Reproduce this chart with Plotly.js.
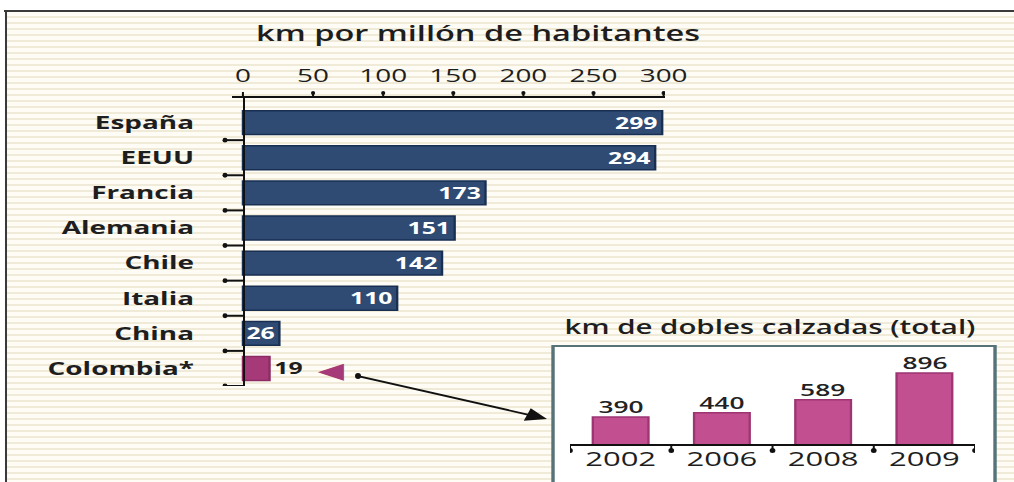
<!DOCTYPE html>
<html><head><meta charset="utf-8">
<script src="https://cdn.plot.ly/plotly-3.0.1.min.js"></script>
<style>
html,body{margin:0;padding:0;background:#fff;overflow:hidden;}
#wrap{width:1014px;height:482px;position:relative;overflow:hidden;
background:
 linear-gradient(to bottom,#fff 0,#fff 10px,transparent 10px),
 linear-gradient(to right,#fff 0,#fff 5px,transparent 5px),
 repeating-linear-gradient(to bottom,#fefcf4 0px,#fefcf4 4px,#efebd8 4px,#efebd8 6px);}
#chart{width:654px;height:482px;transform:scaleX(1.5505);transform-origin:0 0;}
</style></head>
<body><div id="wrap"><div id="chart"></div></div>
<script>
// Main chart: km per million inhabitants
const countries = ["España","EEUU","Francia","Alemania","Chile","Italia","China","Colombia*"];
const kmPerMillion = [299,294,173,151,142,110,26,19];
const mainTicks = [0,50,100,150,200,250,300];
// Inset: km of dual carriageways (total)
const years = ["2002","2006","2008","2009"];
const kmDual = [390,440,589,896];

const SW = 1014, H = 482, W0 = 654, S = SW / W0;   // horizontal stretch of the artwork
const px = v => v / SW, py = v => 1 - v / H;

const barColors = countries.map((c,i) => i === countries.length-1 ? '#a63a79' : '#2f4b74');
const lineColors = countries.map((c,i) => i === countries.length-1 ? '#8c2c63' : '#182f52');
const textPos = kmPerMillion.map((v,i) => i === countries.length-1 ? 'outside' : 'inside');
const textCol = kmPerMillion.map((v,i) => i === countries.length-1 ? '#1e1e1e' : '#ffffff');

const font = "'Open Sans', 'Noto Sans', sans-serif";

const traces = [
 {type:'bar', orientation:'h', x:kmPerMillion, y:countries, xaxis:'x', yaxis:'y',
  marker:{color:barColors, line:{color:lineColors, width:1.5}},
  width:0.68, text:kmPerMillion.map(String), textposition:textPos, textangle:0,
  insidetextanchor:'end', constraintext:'none', cliponaxis:false,
  textfont:{family:font, size:16, color:textCol, weight:700},
  hoverinfo:'x+y'},
 {type:'bar', x:years, y:kmDual, xaxis:'x2', yaxis:'y2',
  marker:{color:'#c24f8f', line:{color:'#9c3572', width:1.5}},
  width:0.55, hoverinfo:'x+y'}
];

const shapes = [];
// frame lines
shapes.push({type:'line', xref:'paper', yref:'paper', x0:px(4), x1:1, y0:py(11), y1:py(11), line:{color:'#3a3a3a', width:2}});
shapes.push({type:'line', xref:'paper', yref:'paper', x0:px(6), x1:px(6), y0:py(11), y1:0, line:{color:'#3a3a3a', width:1.3}});
// main x ticks (upwards) with dots
mainTicks.forEach(t => {
  shapes.push({type:'line', xref:'x', yref:'paper', x0:t, x1:t, y0:py(98), y1:py(92), line:{color:'#111', width:1.3}});
  if (t > 0) shapes.push({type:'circle', xref:'x', yref:'paper', x0:t-1.5, x1:t+1.5, y0:py(95), y1:py(91), fillcolor:'#111', line:{width:0}});
});
// main y ticks at category boundaries with dots
countries.forEach((c,i) => {
  shapes.push({type:'line', xref:'paper', yref:'y', x0:px(225), x1:px(243), y0:i+0.5, y1:i+0.5, line:{color:'#111', width:2}});
  shapes.push({type:'circle', xref:'paper', yref:'y', x0:px(222.5), x1:px(227.5), y0:i+0.5-0.07, y1:i+0.5+0.07, fillcolor:'#111', line:{width:0}});
});
// inset box
shapes.push({type:'rect', xref:'paper', yref:'paper', x0:px(553), x1:px(995), y0:-0.05, y1:py(346), fillcolor:'#ffffff', line:{color:'#557379', width:2.2}, layer:'below'});
// inset x ticks (downwards) with dots
[-0.5,0.5,1.5,2.5,3.5].forEach(t => {
  shapes.push({type:'line', xref:'x2', yref:'paper', x0:t, x1:t, y0:py(444), y1:py(451), line:{color:'#111', width:1.3}});
  shapes.push({type:'circle', xref:'x2', yref:'paper', x0:t-0.028, x1:t+0.028, y0:py(453), y1:py(448), fillcolor:'#111', line:{width:0}});
});
// arrow tail dot
shapes.push({type:'circle', xref:'paper', yref:'paper', x0:px(355), x1:px(361), y0:py(379), y1:py(373), fillcolor:'#111', line:{width:0}});

const annotations = [
 {text:'km por millón de habitantes', xref:'paper', yref:'paper', x:px(478), y:py(33), xanchor:'center', yanchor:'middle', showarrow:false,
  font:{family:font, size:21, color:'#1e1e1e', weight:600}},
 {text:'km de dobles calzadas (total)', xref:'paper', yref:'paper', x:px(770), y:py(327), xanchor:'center', yanchor:'middle', showarrow:false,
  font:{family:font, size:19, color:'#1e1e1e', weight:600}},
 {text:'◀', xref:'paper', yref:'paper', x:px(331), y:py(370), xanchor:'center', yanchor:'middle', showarrow:false,
  font:{family:'DejaVu Sans', size:22, color:'#a63a79'}},
 {text:'', xref:'paper', yref:'paper', x:px(547), y:py(419), showarrow:true, ax:-189 / S, ay:-43,
  arrowhead:2, arrowsize:1.5, arrowwidth:1.8, arrowcolor:'#111'}
];
// value labels just above the inset bars
years.forEach((yr,i) => annotations.push({text:String(kmDual[i]), xref:'x2', yref:'y2', x:i, y:kmDual[i],
  xanchor:'center', yanchor:'bottom', yshift:-3, showarrow:false,
  font:{family:font, size:17, color:'#222', weight:600}}));

const layout = {
 width:W0, height:H, margin:{l:0,r:0,t:0,b:0},
 paper_bgcolor:'rgba(0,0,0,0)', plot_bgcolor:'rgba(0,0,0,0)',
 showlegend:false, bargap:0.3,
 xaxis:{domain:[px(232), px(665)], range:[-7.8, 301], side:'top', anchor:'y',
  tickvals:mainTicks, ticktext:mainTicks.map(String), ticks:'',
  ticklabelstandoff:7, showline:true, linecolor:'#111', linewidth:2, showgrid:false, zeroline:false,
  tickfont:{family:font, size:18, color:'#1e1e1e'}, fixedrange:true},
 yaxis:{domain:[py(386), py(98)], type:'category', categoryorder:'array', categoryarray:countries,
  range:[7.5, -0.7], anchor:'free', position:px(243), ticks:'',
  ticklabelstandoff:28, showline:true, linecolor:'#111', linewidth:1.4, showgrid:false,
  tickfont:{family:font, size:18, color:'#1e1e1e', weight:700}, fixedrange:true},
 xaxis2:{domain:[px(570), px(975)], type:'category', categoryorder:'array', categoryarray:years,
  range:[-0.5,3.5], anchor:'y2', ticks:'',
  showline:true, linecolor:'#111', linewidth:2, showgrid:false,
  tickfont:{family:font, size:20, color:'#1e1e1e', weight:500}, ticklabelstandoff:-4, fixedrange:true},
 yaxis2:{domain:[py(444), py(350)], range:[80, 1160], anchor:'x2', showline:false, showgrid:false,
  zeroline:false, showticklabels:false, ticks:'', fixedrange:true},
 shapes:shapes, annotations:annotations
};

Plotly.newPlot('chart', traces, layout, {displayModeBar:false, staticPlot:true});
</script></body></html>
